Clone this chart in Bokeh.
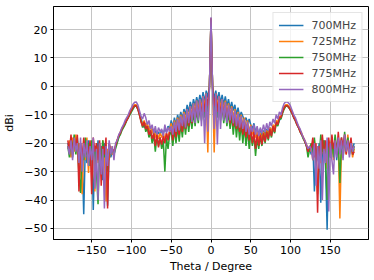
from bokeh.plotting import figure
from bokeh.models import FixedTicker, Range1d
from bokeh.embed import file_html
from bokeh.resources import INLINE

# sampling angles (degrees)
theta = list(range(-180, -1, 2)) + [-1, 0, 1] + list(range(2, 181, 2))

labels = ["700MHz", "725MHz", "750MHz", "775MHz", "800MHz"]
colors = ["#1f77b4", "#ff7f0e", "#2ca02c", "#d62728", "#9467bd"]

gain_700 = [
    -20, -23, -18, -25, -19, -22, -18, -26, -20, -24, -45, -21, -27, -19, -25, -20, -43.5, -22, -26, -19, -28, -21, -33, -20, -24, -42, -22, -25,
    -23, -24, -21, -19.5, -18, -16.5, -15, -14, -13, -12, -11, -9.5, -8.5, -7.5, -6.8,
    -6.8, -7.5, -9.5, -11.5, -13, -14.5, -13, -15, -14, -16.5, -15, -17, -15.5, -17.5, -16, -17, -15.5, -16.5, -15, -16, -14, -15,
    -12, -14.5, -11, -13.5, -10, -12.5, -9, -11.5, -8, -10, -6.5, -9, -5.5, -8, -4.5, -7, -3.8, -6.5, -3, -6, -2, -5.5, -1.5, -4, 0,
    11, 23.5, 11,
    0, -4.5, -1.5, -5, -2, -6, -3, -6.5, -3.5, -7, -4.5, -8, -5.5, -8.5, -6.5, -10, -7.5, -11, -9, -10.5, -12, -11, -13, -11.5, -13.5,
    -15, -13, -16, -14.5, -17, -15, -17.5, -15.5, -17, -15, -16.5, -14.5, -16, -14, -15, -13, -13.5, -12, -11, -9, -7.5, -6.8,
    -6.8, -7.5, -8.5, -9.5, -11, -12, -13, -14.5, -15.5, -17, -18, -19.5, -21, -23, -22,
    -24, -20, -37, -22, -26, -20, -41, -23, -19, -28, -50.5, -21, -25, -19, -24, -18, -26, -20, -23, -18, -25, -19, -22, -18, -24, -21, -22, -20,
]

gain_725 = [
    -22, -19, -25, -18, -23, -17, -24, -20, -27, -38, -21, -26, -18, -30.5, -20, -24, -19, -37, -21, -27, -20, -31, -19, -25, -40.5, -22, -26, -21,
    -24, -23, -21, -19, -17.5, -16, -15, -14, -13, -11.5, -10.5, -9, -8, -7, -6.5,
    -6.5, -7.5, -9.5, -12, -13.5, -12, -14, -13, -15.5, -14, -16.5, -15, -18, -16, -18.5, -16.5, -18, -16, -19, -16.5, -18, -15.5,
    -13, -16, -12, -15, -11, -14, -10, -13, -9, -12, -8, -11, -7, -10, -6, -9, -5, -8.5, -4.5, -8, -3.5, -7.5, -2.5, -23.3, 0,
    11.5, 24, 11.5,
    0, -23.3, -2.5, -7.5, -3.5, -8, -4.5, -8.5, -5, -9.5, -6, -10, -7, -11, -8, -12, -9, -13, -10, -14, -11, -15, -12, -16, -13.5,
    -17, -15, -18, -16, -19, -16.5, -18.5, -16, -18, -15.5, -17, -14.5, -16, -13.5, -14.5, -12, -12.5, -10.5, -10.5, -8.5, -7, -6.5,
    -6.5, -7, -8, -9, -10.5, -11.5, -13, -14, -15.5, -16.5, -18, -19, -20.5, -22, -23,
    -21, -26, -19, -24, -38, -21, -27, -18, -25, -20, -29, -19, -24, -18, -26, -20, -23, -19, -46.5, -21, -25, -18, -24, -17, -23, -20, -25, -22,
]

gain_750 = [
    -21, -25, -18, -23, -17, -24, -19, -31, -37.5, -22, -26, -18, -24, -20, -28, -19, -25, -21, -30, -41.5, -22, -27, -19, -25, -21, -30, -20, -24,
    -22, -24, -22, -20, -18, -17, -15.5, -14.5, -13.5, -12, -11, -10, -9, -8, -7,
    -7, -8, -10, -12, -14.5, -13, -16, -14.5, -18, -16, -20, -17, -23, -17.5, -21, -18, -22, -19, -30, -18, -22, -17,
    -16, -21, -15, -20, -14, -19.5, -13, -18, -12, -17, -11, -16, -10, -15, -9, -14, -8, -13, -7, -12, -6, -11, -4, -9, -0.5,
    11.5, 23.8, 11.5,
    -0.5, -9, -4, -11, -6, -12, -7, -13, -8, -14, -9, -15, -10, -17, -11, -18, -12, -19, -13, -20, -14, -21, -15, -22, -16,
    -21, -17, -24.5, -18, -22, -17.5, -21, -17, -20, -16, -19, -15.5, -18, -14.5, -16.5, -13, -14, -11.5, -11.5, -9.5, -8, -7,
    -7, -7.5, -8.5, -9.5, -11, -12, -13.5, -14.5, -16, -17, -18.5, -19.5, -21, -25, -22,
    -20, -24, -18, -27, -21, -25, -17, -23, -19, -26, -40, -21, -24, -18, -25, -17, -22, -19, -34, -20, -24, -16, -23, -18, -22, -19, -24, -21,
]

gain_775 = [
    -19, -23, -17, -24, -18, -22, -17, -37, -20, -25, -18, -24, -20, -24, -19, -38, -18, -23, -20, -26, -19, -35, -21, -24, -18, -43, -20, -23,
    -22, -23, -21, -19, -17.5, -16.5, -15, -14, -13, -12, -11, -9.5, -8.5, -7.5, -6.8,
    -6.8, -8, -10, -12.5, -14, -12.5, -15, -14, -17, -15.5, -18.5, -16.5, -21, -17, -21.5, -18, -20.5, -17.5, -20, -16.5, -19, -16,
    -14.5, -19, -13.5, -18, -12.5, -17, -11.5, -16, -10.5, -15, -9.5, -14, -8.5, -13, -7.5, -12, -6.5, -11, -5.5, -10, -4.5, -9, -3, -7, -0.5,
    11.5, 24, 11.5,
    -0.5, -7, -3, -9, -4.5, -10, -5.5, -11, -6.5, -12, -7.5, -13, -8.5, -14, -9.5, -15, -10.5, -16, -11.5, -17, -12.5, -18, -13.5, -19, -15,
    -20, -16, -22, -17, -21, -17, -20.5, -16.5, -19.5, -16, -18.5, -15, -17.5, -14, -16, -12.5, -13.5, -11, -11, -9, -7.5, -6.8,
    -6.8, -7.5, -8.5, -9.5, -11, -12, -13.5, -14.5, -16, -17, -18, -19.5, -21, -23, -21,
    -22, -18, -25, -20, -44.5, -21, -24, -17, -26, -19, -23, -18, -25, -17, -22, -19, -24, -16, -23, -18, -21, -17, -24, -19, -22, -18, -24, -23,
]

gain_800 = [
    -21, -24, -19, -26, -18, -23, -20, -27, -18, -30, -20, -25, -19, -28, -21, -26, -18, -36, -22, -40, -20, -31, -22, -43, -21, -28, -19, -24,
    -21, -26, -20, -19, -17, -16, -14.5, -13.5, -12, -11, -10, -8.5, -7.5, -6.3, -5.6,
    -5.5, -6.5, -8.5, -10.5, -11.5, -9.5, -11, -13.5, -12, -15, -13.5, -16.5, -14, -17, -14.5, -16, -15, -17.5, -13.5, -16.5, -14.5, -16,
    -14, -17, -12.5, -16, -11.5, -15.5, -10.5, -14, -9.5, -14.5, -8, -13, -7, -12.5, -6, -13, -5, -12, -4.5, -14, -3.5, -20, -2.5, -16, -1,
    12, 24.3, 12,
    -1, -15, -2.5, -20.5, -3.5, -15, -4.5, -12, -5.5, -13, -6.5, -12, -7.5, -13, -8.5, -14, -9.5, -14.5, -10.5, -15, -11.5, -16, -12.5, -17, -14,
    -16, -13.5, -17, -14, -17.5, -14.5, -16.5, -13.5, -16, -13, -15.5, -12.5, -14, -11.5, -13, -10, -11.5, -9, -10, -7.5, -6, -5.4,
    -5.5, -6, -7, -8.5, -10, -11, -12.5, -14, -15, -16.5, -18, -19, -20.5, -22, -21,
    -22, -26, -20, -35, -21, -29, -19, -40, -22, -27, -18, -44, -20, -26, -31, -19, -25, -18, -24, -19, -26, -17, -23, -19, -25, -20, -23, -21,
]

series = [gain_700, gain_725, gain_750, gain_775, gain_800]

x_ticks = [-150, -100, -50, 0, 50, 100, 150]
y_ticks = [-50, -40, -30, -20, -10, 0, 10, 20]

FONT = "DejaVu Sans"

p = figure(width=374, height=280, output_backend="svg", toolbar_location=None,
           x_range=Range1d(-198, 198), y_range=Range1d(-53.9, 28.1),
           min_border_left=53, min_border_right=6, min_border_top=6, min_border_bottom=41)

for vals, lab, col in zip(series, labels, colors):
    p.line(theta, vals, line_color=col, line_width=1.5, legend_label=lab)

p.xaxis.ticker = FixedTicker(ticks=x_ticks)
p.yaxis.ticker = FixedTicker(ticks=y_ticks)
p.xaxis.major_label_overrides = {t: (str(t).replace("-", "\u2212")) for t in x_ticks}
p.yaxis.major_label_overrides = {t: (str(t).replace("-", "\u2212")) for t in y_ticks}
p.xaxis.axis_label = "Theta / Degree"
p.yaxis.axis_label = "dBi"
for ax in (p.xaxis, p.yaxis):
    ax.axis_label_text_font = FONT
    ax.axis_label_text_font_size = "11px"
    ax.axis_label_text_font_style = "normal"
    ax.axis_label_text_color = "black"
    ax.major_label_text_font = FONT
    ax.major_label_text_font_size = "11px"
    ax.major_label_text_color = "black"
    ax.minor_tick_line_color = None
    ax.major_tick_in = 0
    ax.major_tick_out = 3
    ax.major_label_standoff = 3
    ax.axis_line_color = "black"
    ax.major_tick_line_color = "black"
p.xaxis.axis_label_standoff = 3
p.yaxis.axis_label_standoff = 5

p.grid.grid_line_color = "#c4c4c4"
p.grid.grid_line_width = 1
p.outline_line_color = "black"
p.outline_line_width = 1
p.background_fill_color = "white"
p.border_fill_color = "white"

lg = p.legend[0]
lg.location = "top_right"
lg.margin = 6
lg.padding = 5
lg.spacing = 2
lg.glyph_width = 25
lg.glyph_height = 14
lg.label_height = 14
lg.label_standoff = 8
lg.label_text_font = FONT
lg.label_text_font_size = "11px"
lg.border_line_color = "#cccccc"
lg.background_fill_alpha = 0.8

open("out.html", "w").write(file_html(p, INLINE))
